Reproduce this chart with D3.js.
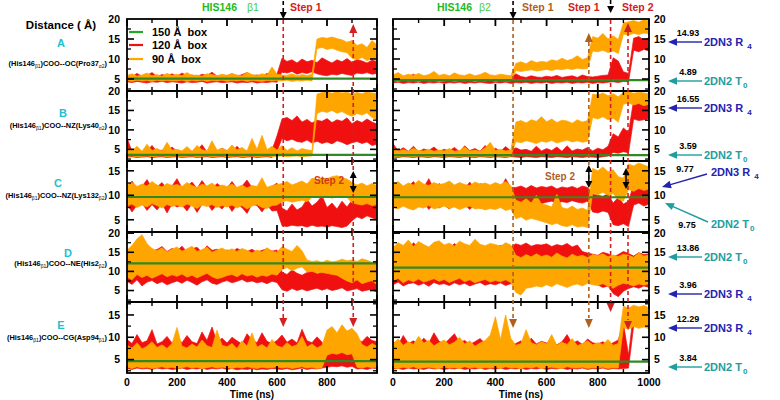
<!DOCTYPE html>
<html><head><meta charset="utf-8">
<script src="https://cdn.jsdelivr.net/npm/d3@7"></script>
<style>body{margin:0;background:#fff} svg{display:block} text{font-family:"Liberation Sans",Arial,Helvetica,sans-serif}</style>
</head><body><svg id="c" width="780" height="400"></svg>
<script>
// ---------------- DATA ----------------
const times = [0,20,40,60,80,100,120,140,160,180, 200,220,240,260,280,300,320,340,360,380,
  400,420,440,460,480,500,520,540,560,580, 600,620,640,660,680,700,720,740,760,780,
  800,820,840,860,880,900,920,940,960,980, 1000];
const panelKeys = ["A","B","C","D","E"];
const yDomains = [[2,20],[2,20],[2.5,17],[2,20.3],[2,17.9]];
const yTickLabels = [[5,10,15,20],[5,10,15,20],[5,10,15],[5,10,15,20],[5,10,15]];
const yMajorTicks = [5,10,15,20];
const yMinorTicks = [2.5,7.5,12.5,17.5];
const xMajorTicks = [0,200,400,600,800,1000];
const xMinorTicks = [100,300,500,700,900];
const xLabelsLeft = [0,200,400,600,800];
const xLabelsRight = [0,200,400,600,800,1000];
const green150L = [5.1,3.6,9.65,12.1,4.65];
const green150R = [4.7,3.5,9.6,11.0,4.55];
const legendLabels = ["150 \u00c5\u00a0 box","120 \u00c5\u00a0 box","90 \u00c5\u00a0 box"];
const pairLabels = [
  ["(His146","\u03b21",")COO--OC(Pro37","\u03b12",")"],
  ["(His146","\u03b21",")COO--NZ(Lys40","\u03b12",")"],
  ["(His146","\u03b21",")COO--NZ(Lys132","\u03b22",")"],
  ["(His146","\u03b21",")COO--NE(His2","\u03b22",")"],
  ["(His146","\u03b21",")COO--CG(Asp94","\u03b21",")"]];
const stepTimesLeft = [625,905];
const stepTimesRight = [469,765,850,918];
const annValues = ["14.93","4.89","16.55","3.59","9.77","9.75","13.86","3.96","12.29","3.84"];
const annNames = ["2DN3 R","2DN2 T","2DN3 R","2DN2 T","2DN3 R","2DN2 T","2DN2 T","2DN3 R","2DN3 R","2DN2 T"];
const annSubs = ["4","0","4","0","4","0","0","4","4","0"];

// Panel A
const A_L_red_lo = [4.3,4.1,4.4,4.2,4.0,4.3,4.2,4.4,4.1,4.3, 4.2,4.0,4.3,4.1,4.2,4.4,4.0,4.2,4.3,4.1, 4.2,4.3,4.0,4.2,4.1,4.3,4.0,4.2,4.1,4.3, 4.2,6.8,6.5,6.9,6.2,6.6,6.4,6.8,6.3,6.0, 5.8,6.2,6.0,6.4,6.1,5.9,6.5,6.3,6.6,6.2, 6.4];
const A_L_red_hi = [6.0,5.6,6.4,5.7,5.9,6.6,5.6,6.1,5.8,6.3, 5.7,6.5,5.8,6.0,5.6,6.2,5.9,6.7,5.7,6.0, 5.8,6.3,5.7,6.1,6.6,5.8,6.0,5.7,6.4,5.9, 6.2,10.2,9.4,9.8,9.0,10.0,9.3,9.7,9.1,10.3, 9.6,9.0,9.8,9.3,10.1,9.2,9.9,9.5,9.0,9.7, 9.4];
const A_L_or_lo = [4.6,4.4,4.7,4.5,4.6,4.4,4.7,4.5,4.6,4.5, 4.5,4.7,4.4,4.6,4.5,4.7,4.4,4.6,4.5,4.7, 4.4,4.6,4.5,4.7,4.4,4.6,4.5,4.4,4.6,4.5, 4.6,4.5,4.7,4.4,4.6,4.5,4.7,4.5,12.6,12.9, 12.4,12.7,12.2,11.8,11.6,10.2,9.8,10.4,9.6,10.0, 10.3];
const A_L_or_hi = [5.9,6.3,5.7,6.0,6.5,5.8,6.1,5.7,6.4,5.9, 6.2,5.8,6.6,5.9,6.0,5.7,6.3,6.1,5.8,6.2, 5.9,6.4,6.0,5.8,6.7,6.1,5.9,6.3,6.0,8.0, 6.2,6.0,5.9,6.3,5.8,6.1,5.9,6.2,15.0,15.4, 15.2,15.5,15.1,14.8,14.2,14.6,13.4,13.8,12.9,14.6, 13.5];
const A_R_red_lo = [4.0,4.2,3.9,4.1,4.0,4.2,3.9,4.1,4.0,4.2, 3.9,4.1,4.0,4.2,3.9,4.1,4.0,4.2,4.0,3.9, 4.1,4.0,4.2,3.9,4.1,4.0,4.2,3.9,4.1,4.0, 4.2,3.9,4.1,4.0,4.2,3.9,4.1,4.0,4.2,3.9, 4.1,4.0,4.2,4.3,4.1,4.4,4.3,12.2,11.8,12.4, 12.0];
const A_R_red_hi = [5.4,5.9,5.3,5.6,6.2,5.4,5.7,5.3,5.8,5.5, 5.6,5.3,6.4,5.5,5.4,5.8,5.3,5.6,5.5,5.9, 5.4,5.7,5.5,5.3,6.3,5.6,5.4,5.8,5.5,5.4, 5.7,5.5,5.9,5.4,5.6,5.8,5.4,6.0,5.6,5.5, 5.7,5.9,6.0,10.3,9.5,6.8,6.4,15.2,15.6,14.8, 15.3];
const A_R_or_lo = [4.6,4.4,4.7,4.5,4.6,4.4,4.7,4.5,4.6,4.4, 4.5,4.7,4.4,4.6,4.5,4.7,4.4,4.6,4.5,4.7, 4.4,4.6,4.5,4.5,7.1,6.9,7.1,7.3,7.0,7.2, 7.4,7.1,7.5,7.3,7.6,7.4,7.7,7.5,7.6,12.0, 11.8,12.2,11.6,12.0,11.4,16.2,16.0,16.4,16.1,16.5, 16.3];
const A_R_or_hi = [6.0,6.6,5.8,6.2,5.9,6.4,5.8,6.1,6.9,5.9, 6.2,5.8,6.5,6.0,5.9,6.3,5.8,6.1,6.7,6.0, 5.9,6.2,6.0,5.8,8.9,9.3,8.8,9.6,9.1,9.4, 9.2,9.8,9.5,10.2,9.6,10.0,10.8,9.9,10.3,15.6, 15.2,16.4,15.0,15.8,14.9,19.0,19.3,19.6,19.2,19.8, 19.5];
// Panel B
const B_L_red_lo = [3.0,3.1,2.9,3.0,3.1,2.9,3.0,3.1,2.9,3.0, 3.1,2.9,3.0,3.1,2.9,3.0,3.1,2.9,3.0,3.1, 2.9,3.0,3.1,2.9,3.0,3.1,2.9,3.0,3.1,2.9, 4.5,7.8,7.2,7.6,7.0,6.8,7.4,6.6,7.1,6.5, 6.9,6.4,7.2,6.8,6.2,6.7,7.0,6.5,6.9,6.0, 6.3];
const B_L_red_hi = [8.0,4.4,5.2,4.3,4.6,6.0,4.4,4.8,4.3,5.6, 4.5,4.3,5.0,4.4,4.7,6.2,4.3,4.9,4.4,5.3, 4.6,4.3,5.8,4.5,4.4,5.1,4.3,6.4,4.5,4.8, 8.5,12.8,13.2,12.4,13.6,12.0,12.7,11.8,12.5,12.2, 12.9,11.9,12.6,12.2,13.1,11.6,12.4,11.9,12.8,12.0, 11.5];
const B_L_or_lo = [3.2,3.3,3.1,3.2,3.3,3.1,3.2,3.3,3.1,3.2, 3.3,3.1,3.2,3.3,3.1,3.2,3.3,3.1,3.2,3.3, 3.1,3.2,3.3,3.1,3.2,3.3,3.1,3.2,3.3,3.1, 3.2,3.3,3.1,3.2,3.3,3.1,3.2,3.3,14.2,14.8, 14.5,15.0,14.3,14.7,14.0,13.5,14.2,13.8,14.4,13.2, 12.5];
const B_L_or_hi = [5.5,4.6,5.8,4.5,6.3,4.7,5.2,4.6,6.8,4.8, 5.0,4.6,5.7,4.5,6.0,4.9,4.6,7.2,4.8,5.3, 4.7,6.1,4.9,5.5,4.6,7.8,5.0,8.6,4.9,5.8, 4.8,6.0,4.7,5.4,4.6,5.2,4.9,4.7,19.2,19.6, 19.8,19.4,19.9,19.5,19.7,19.2,19.6,19.3,19.8,19.5, 19.4];
const B_R_red_lo = [3.0,2.9,3.1,3.0,2.9,3.1,3.0,2.9,3.1,3.0, 2.9,3.1,3.0,2.9,3.1,3.0,2.9,3.1,3.0,2.9, 3.1,3.0,2.9,3.1,3.0,2.9,3.1,3.0,2.9,3.1, 3.0,2.9,3.1,3.0,2.9,3.1,3.0,2.9,3.1,3.0, 2.9,3.1,3.3,4.2,4.0,4.4,4.1,12.8,12.4,12.6, 12.9];
const B_R_red_hi = [6.5,4.6,5.4,4.5,5.8,4.4,5.1,4.7,5.6,4.5, 5.0,4.6,5.5,4.4,5.9,4.7,5.2,4.5,6.0,4.6, 5.3,4.5,5.7,4.6,5.4,4.8,5.0,4.5,5.8,4.6, 5.2,4.7,5.6,4.5,5.9,4.6,5.1,4.8,5.5,4.6, 5.3,4.9,5.8,9.0,8.2,10.5,9.4,17.6,17.2,17.8, 16.9];
const B_R_or_lo = [3.2,3.1,3.3,3.2,3.1,3.3,3.2,3.1,3.3,3.2, 3.1,3.3,3.2,3.1,3.3,3.2,3.1,3.3,3.2,3.1, 3.3,3.2,3.1,3.2,7.0,6.7,7.2,6.9,6.5,7.1, 6.8,7.3,6.6,7.0,7.4,6.9,7.2,6.8,7.1,13.2, 12.8,13.4,12.6,13.0,12.0,16.6,16.9,16.4,16.8,16.2, 16.6];
const B_R_or_hi = [5.5,4.6,4.9,4.5,5.3,4.7,4.6,5.0,4.5,4.8, 4.6,5.2,4.5,4.7,5.6,4.6,4.8,4.5,5.4,6.8, 4.7,5.0,4.6,4.8,12.0,12.4,11.8,12.6,12.2,13.4, 12.1,12.8,11.9,12.5,12.3,11.7,12.6,12.0,12.4,19.2, 19.0,19.5,18.8,19.3,18.5,19.6,19.8,19.4,19.7,19.5, 19.3];
// Panel C
const C_L_red_lo = [8.2,6.6,8.0,8.4,6.9,8.1,7.0,8.3,6.4,8.2, 7.6,8.0,6.8,8.3,6.5,8.1,8.4,6.9,8.0,7.2, 8.3,6.7,8.1,7.5,6.3,8.2,7.9,6.6,8.0,6.8, 6.9,3.8,3.6,3.9,3.7,3.8,3.5,3.9,3.6,3.7, 3.5,3.8,3.6,3.4,3.7,4.8,5.6,5.2,5.8,5.4, 5.0];
const C_L_red_hi = [11.6,12.9,11.4,11.8,13.2,11.5,11.7,12.6,11.3,11.9, 13.4,11.5,11.8,12.7,11.4,13.0,11.6,11.3,12.4,11.7, 11.5,12.8,11.4,11.9,13.1,11.6,11.4,12.3,11.5,11.8, 12.5,7.4,6.8,8.2,7.0,7.6,9.2,7.8,8.6,9.9, 7.5,8.4,7.2,8.8,7.6,9.0,8.8,9.4,8.6,9.2, 8.9];
const C_L_or_lo = [7.8,8.2,7.5,8.0,7.6,8.3,7.9,7.4,8.1,7.7, 8.0,7.6,8.2,7.8,7.3,8.0,7.7,8.1,7.5,7.9, 7.6,8.0,7.4,7.9,7.2,7.8,8.1,7.5,7.3,7.9, 8.0,8.7,8.9,8.6,8.8,9.0,8.7,9.6,9.8,9.5, 9.7,9.4,9.8,9.5,9.6,8.4,8.2,8.0,8.3,7.9, 8.1];
const C_L_or_hi = [12.0,12.6,11.8,12.3,11.9,12.8,12.1,11.7,12.4,12.0, 12.2,11.8,12.6,12.0,11.6,12.3,11.9,12.5,11.7,12.1, 11.8,12.3,11.6,12.1,11.5,12.0,11.8,13.6,11.6,12.0, 12.2,12.4,12.8,12.1,12.5,12.9,12.3,13.5,13.2,13.6, 13.4,13.8,14.0,13.6,13.3,12.6,12.1,12.5,11.9,12.4, 12.0];
const C_R_red_lo = [8.4,7.8,8.2,7.6,8.3,7.9,8.5,7.1,8.2,7.4, 8.0,7.2,8.3,7.4,8.1,7.1,8.2,7.3,8.0,7.8, 7.4,8.2,7.3,7.6,8.6,8.4,8.8,8.5,8.7,8.3, 8.6,8.8,8.4,8.7,8.5,8.9,8.6,8.4,8.8,6.6, 6.4,6.8,6.5,4.0,3.8,4.2,3.6,8.0,8.4,7.8, 8.2];
const C_R_red_hi = [11.4,12.5,11.2,11.8,12.8,11.3,11.6,13.4,11.2,12.4, 11.5,12.6,11.3,11.9,11.4,12.7,11.2,12.4,11.6,11.3, 12.3,11.4,13.4,11.6,11.6,11.9,11.4,12.0,11.5,11.8, 11.6,11.9,11.3,11.7,11.5,11.8,11.4,11.9,11.6,10.2, 10.0,9.8,10.3,8.4,9.6,8.2,8.8,12.2,11.8,12.4, 12.0];
const C_R_or_lo = [7.6,7.2,7.8,7.3,7.0,7.6,7.4,7.9,7.2,7.5, 7.8,7.3,7.6,7.1,7.5,7.8,7.2,7.4,7.0,7.3, 7.1,7.5,6.9,7.2,5.2,5.6,4.9,5.3,5.0,4.7, 4.4,4.0,4.3,3.8,3.6,4.0,3.5,3.7,3.4,10.4, 10.1,10.6,10.0,10.3,9.2,8.8,11.2,10.8,11.4,11.0, 11.3];
const C_R_or_hi = [12.2,12.8,11.9,12.5,12.1,13.0,12.3,12.0,12.6,12.2, 12.4,12.9,12.1,12.6,12.2,12.0,12.7,12.3,12.5,12.1, 12.6,12.2,12.8,12.0,9.0,8.6,9.3,8.4,10.0,8.2, 8.0,7.6,10.2,7.5,7.2,7.8,7.1,7.4,6.9,15.5, 15.0,15.8,14.8,15.2,13.8,13.5,16.4,16.0,16.6,16.2, 15.8];
// Panel D
const D_L_red_lo = [7.4,6.6,7.8,6.2,7.2,7.6,6.8,7.3,6.5,7.0, 7.5,6.9,7.7,7.1,6.4,7.3,7.8,6.9,6.6,7.2, 7.6,7.0,7.4,7.9,7.2,7.5,7.0,7.3,6.8,7.4, 7.1,5.2,4.8,5.5,5.0,5.4,4.9,5.3,5.6,5.1, 5.5,5.0,5.3,5.7,4.9,5.2,5.5,4.8,5.1,5.3, 4.5];
const D_L_red_hi = [14.5,16.2,15.0,15.8,16.8,15.3,15.7,16.5,15.2,16.0, 15.4,16.6,15.1,15.9,16.3,15.0,16.7,15.5,15.8,15.2, 15.6,15.1,16.0,15.4,15.2,15.8,15.0,15.5,15.9,15.3, 15.6,9.8,9.2,10.4,9.5,9.0,9.7,10.6,9.3,9.9, 9.4,10.2,9.6,9.1,9.8,9.3,10.0,9.5,9.2,9.6, 9.0];
const D_L_or_lo = [8.5,7.8,9.2,8.4,9.0,8.2,8.8,9.4,8.6,9.1, 8.7,9.3,8.5,9.0,8.3,8.9,9.5,8.6,8.1,8.4, 8.9,9.2,8.6,9.4,8.8,9.1,8.5,9.0,8.7,9.3, 9.0,10.5,11.0,10.2,10.8,11.2,9.8,10.0,9.6,9.7, 9.5,9.2,9.0,8.2,7.5,7.0,7.8,6.8,7.2,7.6, 6.5];
const D_L_or_hi = [15.5,16.8,18.5,19.6,17.2,16.0,15.4,16.2,15.1,15.8, 16.4,15.3,15.9,16.6,15.2,15.7,16.3,15.0,15.6,16.1, 15.4,15.9,15.2,16.0,15.5,14.8,15.6,15.1,16.2,15.3, 15.0,16.5,15.8,15.2,16.8,15.4,13.0,12.6,12.8,12.4, 12.9,12.5,12.7,13.2,12.8,13.0,12.6,13.3,12.9,12.4, 12.8];
const D_R_red_lo = [6.5,7.2,6.2,6.8,7.0,6.4,6.9,6.1,7.1,6.6, 6.8,6.3,7.0,6.5,6.9,6.2,6.7,7.1,6.4,6.8, 6.5,7.0,6.3,6.8,7.2,7.5,7.0,7.4,7.1,7.6, 7.3,7.8,7.2,7.5,7.0,7.4,7.7,7.1,7.5,6.8, 6.5,5.8,6.2,4.2,3.4,4.8,5.5,6.0,5.6,6.2, 5.8];
const D_R_red_hi = [16.0,17.2,16.4,15.8,17.5,16.2,16.9,15.6,17.0,16.5, 16.8,15.9,17.3,16.1,16.7,15.5,17.1,16.3,15.7,16.6, 16.2,16.8,15.9,16.4,17.2,16.8,17.4,16.6,17.0,16.9, 17.2,16.5,17.0,16.7,17.3,16.4,16.9,15.2,14.8,14.5, 14.2,15.0,14.6,13.8,14.4,15.2,14.7,14.0,14.9,14.4, 14.6];
const D_R_or_lo = [7.5,8.2,7.0,7.8,7.3,8.0,7.2,7.6,8.1,7.4, 7.9,7.1,7.7,8.2,7.3,7.8,7.0,7.5,7.9,7.2, 7.6,7.3,7.8,7.1,4.5,3.8,5.6,5.8,6.2,5.9, 6.5,6.0,6.8,6.3,5.8,6.4,6.7,6.2,6.9,6.5, 6.3,6.8,6.1,5.6,6.4,6.9,6.6,6.2,6.7,6.4, 6.8];
const D_R_or_hi = [16.2,17.5,16.8,18.2,16.5,17.8,17.0,16.4,17.6,18.0, 16.9,17.4,16.6,17.9,17.2,16.8,18.4,17.1,16.7,17.3, 17.0,16.6,17.5,16.9,14.2,13.6,14.4,13.8,14.6,13.9, 14.3,13.7,14.8,14.0,13.5,14.5,13.9,14.2,13.6,14.4, 14.1,14.6,13.8,14.3,13.9,14.5,14.2,13.7,14.8,14.0, 14.3];
// Panel E
const E_L_red_lo = [3.0,2.8,3.1,2.9,3.0,2.8,3.1,2.9,3.0,2.8, 2.9,3.1,2.8,3.0,2.9,3.1,2.8,3.0,2.9,3.1, 2.8,3.0,2.7,2.9,2.8,3.0,2.7,2.9,2.8,3.0, 2.9,2.8,3.0,2.7,2.9,3.1,2.8,3.0,2.9,3.1, 3.3,3.5,3.4,3.6,3.3,3.5,2.9,3.0,2.8,3.1, 3.0];
const E_L_red_hi = [9.5,8.6,10.6,8.8,9.2,11.7,8.5,9.0,10.2,8.7, 9.6,8.8,10.4,9.0,8.6,11.2,9.3,12.3,8.9,9.8, 8.7,10.0,9.2,8.5,10.8,9.4,8.8,11.0,9.1,8.6, 9.3,10.5,8.9,9.6,8.7,11.8,9.2,8.8,10.1,8.9, 7.0,6.8,7.2,6.6,7.0,6.9,9.4,9.0,10.2,9.3, 9.0];
const E_L_or_lo = [3.3,3.0,3.4,3.1,3.3,3.0,3.2,3.4,3.1,3.3, 3.0,3.2,3.4,3.1,3.3,3.0,3.2,3.4,3.1,3.3, 3.2,3.0,3.3,3.1,3.4,3.2,3.0,3.3,3.1,3.2, 3.4,3.1,3.3,3.0,3.2,3.4,3.1,3.3,3.0,3.2, 6.0,6.4,6.2,6.6,6.1,6.3,3.3,3.1,3.4,3.2, 3.3];
const E_L_or_hi = [8.2,7.6,8.8,7.4,8.0,9.0,7.7,8.3,7.5,8.6, 12.2,8.0,7.6,8.5,7.8,9.4,8.1,7.7,11.6,8.2, 7.9,8.6,7.5,9.2,8.0,11.0,7.8,8.4,7.6,9.5, 8.1,7.7,8.8,7.9,8.3,10.2,7.8,8.5,7.6,8.2, 11.6,12.4,11.0,12.8,11.4,12.0,10.8,8.4,7.8,8.6, 8.0];
const E_R_red_lo = [2.9,3.0,2.8,3.1,2.9,3.0,2.8,3.1,2.9,3.0, 2.8,3.0,2.9,3.1,2.8,3.0,2.9,3.1,2.8,3.0, 2.9,3.1,2.8,3.0,2.9,3.1,2.8,3.0,2.9,3.1, 2.8,3.0,2.9,3.1,2.8,3.0,2.9,3.1,2.8,3.0, 2.9,3.1,2.8,3.0,2.9,3.0,3.1,12.5,12.8,12.4, 12.6];
const E_R_red_hi = [9.0,8.2,10.4,8.6,9.2,8.4,9.8,8.7,11.0,9.1, 8.5,9.6,10.8,8.8,9.3,8.4,9.0,9.7,8.6,9.4, 8.8,8.3,9.0,7.8,8.6,9.2,8.4,9.8,8.5,9.1, 8.7,9.5,8.3,9.0,10.6,8.6,9.2,8.4,9.6,8.8, 8.5,9.0,8.2,8.8,9.4,13.2,6.0,15.8,16.2,16.5, 16.0];
const E_R_or_lo = [3.2,3.0,3.3,3.1,3.4,3.0,3.2,3.3,3.1,3.0, 3.3,3.1,3.2,3.0,3.4,3.1,3.3,3.0,3.2,3.1, 3.3,3.0,3.4,3.1,3.2,3.0,3.3,3.1,3.4,3.0, 3.2,3.3,3.1,3.0,3.4,3.2,3.1,3.3,3.0,3.2, 3.1,3.3,3.0,3.2,3.1,12.2,11.8,12.4,12.0,12.3, 11.9];
const E_R_or_hi = [8.5,9.6,8.2,9.0,8.4,10.2,8.7,9.3,8.1,8.8, 9.4,8.3,8.9,10.0,8.5,9.2,8.0,8.7,9.3,10.5, 14.6,9.5,15.0,9.8,8.2,8.6,11.7,8.8,8.3,9.0, 8.5,10.6,8.2,8.9,8.4,9.7,8.1,8.6,9.2,8.3, 8.8,8.4,9.5,8.2,8.6,17.0,16.5,17.2,16.8,17.1, 16.6];

const seriesTable = {
  A_L:{red:[A_L_red_lo,A_L_red_hi], or:[A_L_or_lo,A_L_or_hi]},
  A_R:{red:[A_R_red_lo,A_R_red_hi], or:[A_R_or_lo,A_R_or_hi]},
  B_L:{red:[B_L_red_lo,B_L_red_hi], or:[B_L_or_lo,B_L_or_hi]},
  B_R:{red:[B_R_red_lo,B_R_red_hi], or:[B_R_or_lo,B_R_or_hi]},
  C_L:{red:[C_L_red_lo,C_L_red_hi], or:[C_L_or_lo,C_L_or_hi]},
  C_R:{red:[C_R_red_lo,C_R_red_hi], or:[C_R_or_lo,C_R_or_hi]},
  D_L:{red:[D_L_red_lo,D_L_red_hi], or:[D_L_or_lo,D_L_or_hi]},
  D_R:{red:[D_R_red_lo,D_R_red_hi], or:[D_R_or_lo,D_R_or_hi]},
  E_L:{red:[E_L_red_lo,E_L_red_hi], or:[E_L_or_lo,E_L_or_hi]},
  E_R:{red:[E_R_red_lo,E_R_red_hi], or:[E_R_or_lo,E_R_or_hi]}
};

// ---------------- STYLE / LAYOUT ----------------
const RED="#f01010", ORANGE="#ffa500", GREEN="#2f8a22", LEG_GREEN="#22aa22";
const DRED="#d42020", BROWN="#b0601e", CYAN="#1fc0d0", BLUE="#2323b0", TEAL="#1e9e9e";
const panelTop=[19,91,161,232,302], panelBot=[91,161,232,302,373];
const xL=d3.scaleLinear().domain([0,1000]).range([127,377]);
const xR=d3.scaleLinear().domain([0,1000]).range([393,649]);
const sides=[{key:"L",x:xL,green:green150L},{key:"R",x:xR,green:green150R}];
const svg=d3.select("#c");
const defs=svg.append("defs");
const yScales=[];

function tri(g,tx,ty,ang,color,len,hw){
  const bx=tx-len*Math.cos(ang), by=ty-len*Math.sin(ang);
  const px=-Math.sin(ang)*hw, py=Math.cos(ang)*hw;
  g.append("path").attr("d",`M${tx},${ty}L${bx+px},${by+py}L${bx-px},${by-py}Z`).attr("fill",color);
}

const dataLayer=svg.append("g");
const frameLayer=svg.append("g");

panelKeys.forEach((pk,i)=>{
  const y=d3.scaleLinear().domain(yDomains[i]).range([panelBot[i],panelTop[i]]);
  yScales.push(y);
  sides.forEach(side=>{
    const x=side.x;
    const cid=`clip${pk}${side.key}`;
    defs.append("clipPath").attr("id",cid).append("rect")
      .attr("x",x(0)).attr("y",panelTop[i]).attr("width",x(1000)-x(0)).attr("height",panelBot[i]-panelTop[i]);
    const g=dataLayer.append("g").attr("clip-path",`url(#${cid})`);
    const tbl=seriesTable[pk+"_"+side.key];
    const area=d3.area().x((d,j)=>x(times[j])).y0(d=>y(d[0])).y1(d=>y(d[1]));
    [["red",RED],["or",ORANGE]].forEach(([k,col])=>{
      g.append("path").datum(d3.zip(tbl[k][0],tbl[k][1])).attr("d",area)
        .attr("fill",col).attr("stroke",col).attr("stroke-width",0.7).attr("stroke-linejoin","miter");
    });
    g.append("line").attr("x1",x(0)).attr("x2",x(1000))
      .attr("y1",y(side.green[i])).attr("y2",y(side.green[i]))
      .attr("stroke",GREEN).attr("stroke-width",2.2);
    const f=frameLayer.append("g").attr("stroke","#000").attr("fill","none");
    f.append("rect").attr("x",x(0)).attr("y",panelTop[i]).attr("width",x(1000)-x(0)).attr("height",panelBot[i]-panelTop[i]).attr("stroke-width",1.8);
    const tk=(x1,y1,x2,y2,w)=>f.append("line").attr("x1",x1).attr("y1",y1).attr("x2",x2).attr("y2",y2).attr("stroke-width",w);
    xMajorTicks.forEach(t=>{tk(x(t),panelTop[i],x(t),panelTop[i]+7,1.8);tk(x(t),panelBot[i],x(t),panelBot[i]-7,1.8);});
    xMinorTicks.forEach(t=>{tk(x(t),panelTop[i],x(t),panelTop[i]+4,1.4);tk(x(t),panelBot[i],x(t),panelBot[i]-4,1.4);});
    const [d0,d1]=yDomains[i];
    yMajorTicks.filter(v=>v>d0&&v<d1).forEach(v=>{tk(x(0),y(v),x(0)+7,y(v),1.6);tk(x(1000),y(v),x(1000)-7,y(v),1.6);});
    yMinorTicks.filter(v=>v>d0&&v<d1).forEach(v=>{tk(x(0),y(v),x(0)+4,y(v),1.3);tk(x(1000),y(v),x(1000)-4,y(v),1.3);});
  });
  yTickLabels[i].forEach(v=>{
    svg.append("text").attr("x",120).attr("y",y(v)+3.8).attr("text-anchor","end")
      .attr("font-size",10.5).attr("font-weight","bold").text(v);
    svg.append("text").attr("x",654).attr("y",y(v)+3.8).attr("text-anchor","start")
      .attr("font-size",10.5).attr("font-weight","bold").text(v);
  });
});

xLabelsLeft.forEach(t=>svg.append("text").attr("x",xL(t)).attr("y",386).attr("text-anchor","middle").attr("font-size",10.5).attr("font-weight","bold").text(t));
xLabelsRight.forEach(t=>svg.append("text").attr("x",xR(t)).attr("y",386).attr("text-anchor","middle").attr("font-size",10.5).attr("font-weight","bold").text(t));
[[xL],[xR]].forEach(([x])=>svg.append("text").attr("x",(x(0)+x(1000))/2).attr("y",397.5).attr("text-anchor","middle").attr("font-size",10).attr("font-weight","bold").text("Time (ns)"));

[[LEG_GREEN,32],[RED,45],[ORANGE,59]].forEach(([c,yy],k)=>{
  svg.append("line").attr("x1",129).attr("x2",143).attr("y1",yy).attr("y2",yy).attr("stroke",c).attr("stroke-width",2.2);
  svg.append("text").attr("x",152).attr("y",yy+4).attr("font-size",11).attr("font-weight","bold").text(legendLabels[k]);
});

svg.append("text").attr("x",61).attr("y",29).attr("text-anchor","middle").attr("font-size",11.5).attr("font-weight","bold").text("Distance ( \u00c5)");
const letterX=[61,63,58,68,61], letterY=[47,117,187,257,329], pairY=[66,128,198,266,340];
panelKeys.forEach((pk,i)=>{
  svg.append("text").attr("x",letterX[i]).attr("y",letterY[i]).attr("text-anchor","middle").attr("font-size",11).attr("font-weight","bold").attr("fill",CYAN).text(pk);
  const t=svg.append("text").attr("x",107).attr("y",pairY[i]).attr("text-anchor","end").attr("font-size",7.4).attr("font-weight","bold");
  const p=pairLabels[i];
  t.append("tspan").text(p[0]);
  t.append("tspan").attr("font-size",5).attr("dy",2).attr("font-weight","normal").text(p[1]);
  t.append("tspan").attr("dy",-2).text(p[2]);
  t.append("tspan").attr("font-size",5).attr("dy",2).attr("font-weight","normal").text(p[3]);
  t.append("tspan").attr("dy",-2).text(p[4]);
});

svg.append("text").attr("x",202).attr("y",11).attr("font-size",10.5).attr("font-weight","bold").attr("fill","#22bb22").text("HIS146");
svg.append("text").attr("x",247).attr("y",11).attr("font-size",10.5).attr("font-family","DejaVu Serif").attr("fill","#44cc44").text("\u03b21");
svg.append("text").attr("x",437).attr("y",11).attr("font-size",10.5).attr("font-weight","bold").attr("fill","#22bb22").text("HIS146");
svg.append("text").attr("x",479).attr("y",11).attr("font-size",10.5).attr("font-family","DejaVu Serif").attr("fill","#44cc44").text("\u03b22");
[[290,DRED,"Step 1"],[522,BROWN,"Step 1"],[568,DRED,"Step 1"],[622,DRED,"Step 2"]].forEach(([xx,c,s])=>
  svg.append("text").attr("x",xx).attr("y",11).attr("font-size",10.5).attr("font-weight","bold").attr("fill",c).text(s));
svg.append("text").attr("x",314).attr("y",184).attr("font-size",10).attr("font-weight","bold").attr("fill","#cc3a14").text("Step 2");
svg.append("text").attr("x",545).attr("y",180).attr("font-size",10).attr("font-weight","bold").attr("fill",BROWN).text("Step 2");

const ann=svg.append("g");
function dashed(x,y1,y2,c,w){ann.append("line").attr("x1",x).attr("x2",x).attr("y1",y1).attr("y2",y2).attr("stroke",c).attr("stroke-width",w||1.6).attr("stroke-dasharray","4,3");}
const D=Math.PI/2, U=-Math.PI/2;
{ const x1=xL(stepTimesLeft[0]), x2=xL(stepTimesLeft[1]);
  dashed(x1,1,12,"#000",1.6); tri(ann,x1,19,D,"#000",7,3.5);
  dashed(x1,20,318,DRED); tri(ann,x1,327,D,DRED,9,4);
  tri(ann,x2,24,U,DRED,9,4); dashed(x2,33,318,DRED); tri(ann,x2,327,D,DRED,9,4);
  ann.append("line").attr("x1",x2).attr("x2",x2).attr("y1",177).attr("y2",187).attr("stroke","#000").attr("stroke-width",1.5);
  tri(ann,x2,171,U,"#000",7,3.5); tri(ann,x2,193,D,"#000",7,3.5);
}
{ const [r1,r2,r3,r4]=stepTimesRight.map(t=>xR(t));
  dashed(r1,1,12,"#000",1.6); tri(ann,r1,19,D,"#000",7,3.5);
  dashed(r1,20,318,BROWN); tri(ann,r1,328,D,BROWN,9,4);
  tri(ann,r2,33,U,BROWN,9,4); dashed(r2,42,318,BROWN); tri(ann,r2,328,D,BROWN,9,4);
  dashed(r3,0,7,"#000",1.6); tri(ann,r3,13,D,"#000",7,3.5);
  dashed(r3,20,302,DRED); tri(ann,r3,312,D,DRED,9,4);
  tri(ann,r4,23,U,DRED,9,4); dashed(r4,32,320,DRED); tri(ann,r4,330,D,DRED,9,4);
  [[r2,165,188],[r4-2,168,189]].forEach(([xx,a,b])=>{
    ann.append("line").attr("x1",xx).attr("x2",xx).attr("y1",a+6).attr("y2",b-6).attr("stroke","#000").attr("stroke-width",1.5);
    tri(ann,xx,a,U,"#000",7,3.5); tri(ann,xx,b,D,"#000",7,3.5);
  });
}

const annY=[42,81,108,155,null,null,257,294,328,367];
annValues.forEach((v,k)=>{
  const col=annSubs[k]==="4"?BLUE:TEAL;
  let tail, tip, vpos, lpos;
  if(annY[k]!==null){ const yy=annY[k]; tail=[702,yy]; tip=[668,yy]; vpos=[688,yy-6]; lpos=[704,yy+4]; }
  else if(k===4){ tail=[707,174]; tip=[662,187]; vpos=[685,172]; lpos=[711,176]; }
  else { tail=[708,222]; tip=[665,203]; vpos=[687,228]; lpos=[711,228]; }
  const ang=Math.atan2(tip[1]-tail[1],tip[0]-tail[0]);
  const bx=tip[0]-7*Math.cos(ang), by=tip[1]-7*Math.sin(ang);
  ann.append("line").attr("x1",tail[0]).attr("y1",tail[1]).attr("x2",bx).attr("y2",by).attr("stroke",col).attr("stroke-width",1.4);
  tri(ann,tip[0],tip[1],ang,col,9,3.8);
  ann.append("text").attr("x",vpos[0]).attr("y",vpos[1]).attr("text-anchor","middle").attr("font-size",9).attr("font-weight","bold").text(v);
  const t=ann.append("text").attr("x",lpos[0]).attr("y",lpos[1]).attr("font-size",11).attr("font-weight","bold").attr("fill",col);
  t.append("tspan").text(annNames[k]);
  t.append("tspan").attr("font-size",8).attr("dy",3).attr("dx",annSubs[k]==="4"?4:1).text(annSubs[k]);
});
</script></body></html>
